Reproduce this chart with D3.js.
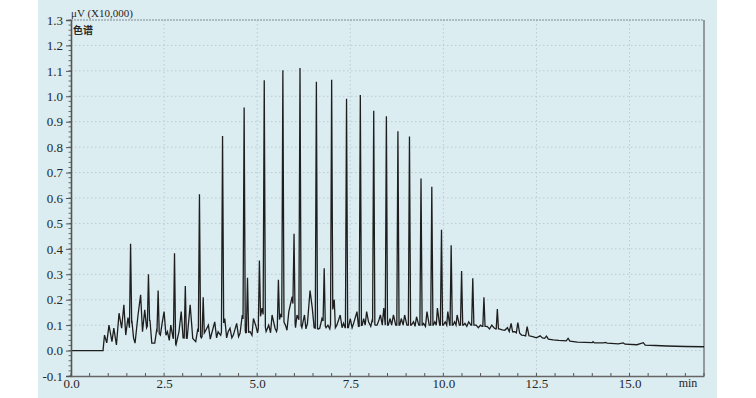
<!DOCTYPE html>
<html>
<head>
<meta charset="utf-8">
<script src="https://cdn.jsdelivr.net/npm/d3@7"></script>
<style>
  body { margin: 0; background: #fff; }
  svg { display: block; }
  .tick text { font-family: 'Liberation Serif', 'DejaVu Serif', serif; font-size: 13px; fill: #262626; }
</style>
</head>
<body>
<div id="chart"></div>
<script>
// retention time (min) and height (uV x10,000) of the tall peaks
const peakTimes = [1.60, 2.08, 2.34, 2.78, 3.07, 3.45, 3.55, 4.07, 4.65, 4.74, 5.06, 5.19, 5.57, 5.69, 5.99, 6.15,
  6.59, 6.80, 7.00, 7.40, 7.77, 8.13, 8.47, 8.78, 9.09, 9.40, 9.69, 9.95, 10.21, 10.49, 10.79, 11.09, 11.45]
const peakHeights = [0.42, 0.30, 0.236, 0.383, 0.254, 0.615, 0.21, 0.844, 0.956, 0.286, 0.354, 1.063, 0.278, 1.102, 0.459, 1.111,
  1.057, 0.324, 1.065, 0.99, 1.005, 0.943, 0.921, 0.862, 0.842, 0.677, 0.644, 0.475, 0.414, 0.313, 0.284, 0.21, 0.163]

// the rest of the trace (baseline hump + small peaks)
const traceTime = [0.0, 0.86, 0.90, 0.96, 1.02, 1.10, 1.15, 1.22, 1.29, 1.36, 1.42, 1.47, 1.53, 1.57, 1.64, 1.68, 1.72, 1.80,
  1.87, 1.92, 1.98, 2.03, 2.12, 2.17, 2.25, 2.30, 2.40, 2.45, 2.50, 2.55, 2.59, 2.64, 2.68, 2.74, 2.82, 2.90, 2.96, 3.01,
  3.12, 3.20, 3.27, 3.35, 3.40, 3.50, 3.60, 3.69, 3.74, 3.78, 3.86, 3.91, 3.95, 4.02, 4.13, 4.18, 4.22, 4.27, 4.32, 4.36,
  4.45, 4.50, 4.54, 4.60, 4.69, 4.81, 4.86, 4.90, 4.97, 5.01, 5.13, 5.24, 5.31, 5.36, 5.40, 5.48, 5.52, 5.63, 5.76, 5.80,
  5.85, 5.94, 6.03, 6.07, 6.20, 6.27, 6.31, 6.35, 6.42, 6.48, 6.53, 6.64, 6.68, 6.74, 6.85, 6.90, 6.95, 7.07, 7.10, 7.14,
  7.23, 7.28, 7.32, 7.36, 7.45, 7.50, 7.55, 7.59, 7.68, 7.72, 7.82, 7.86, 7.90, 7.94, 7.99, 8.05, 8.09, 8.17, 8.22, 8.27,
  8.31, 8.36, 8.40, 8.44, 8.52, 8.57, 8.61, 8.66, 8.72, 8.83, 8.87, 8.92, 8.96, 9.02, 9.14, 9.20, 9.24, 9.28, 9.34, 9.44,
  9.47, 9.52, 9.56, 9.62, 9.73, 9.77, 9.81, 9.84, 9.90, 10.00, 10.05, 10.09, 10.12, 10.17, 10.26, 10.30, 10.34, 10.37,
  10.43, 10.54, 10.58, 10.63, 10.68, 10.74, 10.84, 10.88, 10.94, 11.00, 11.04, 11.14, 11.18, 11.24, 11.30, 11.36, 11.40,
  11.50, 11.58, 11.65, 11.72, 11.77, 11.82, 11.86, 11.92, 11.96, 12.00, 12.05, 12.10, 12.16, 12.21, 12.25, 12.30, 12.40,
  12.50, 12.60, 12.66, 12.72, 12.77, 12.82, 12.95, 13.10, 13.30, 13.35, 13.40, 13.60, 13.80, 14.00, 14.02, 14.06, 14.30,
  14.35, 14.40, 14.70, 14.83, 14.88, 15.20, 15.37, 15.42, 15.70, 16.00, 16.50, 17.00]
const traceValue = [0.0, 0.0, 0.061, 0.03, 0.10, 0.035, 0.088, 0.022, 0.147, 0.088, 0.18, 0.061, 0.13, 0.09, 0.11, 0.05, 0.029, 0.14,
  0.219, 0.074, 0.16, 0.09, 0.12, 0.029, 0.029, 0.08, 0.061, 0.11, 0.153, 0.06, 0.074, 0.04, 0.10, 0.05, 0.022, 0.074, 0.153, 0.05,
  0.048, 0.18, 0.048, 0.035, 0.08, 0.05, 0.074, 0.10, 0.045, 0.068, 0.113, 0.05, 0.074, 0.06, 0.126, 0.05, 0.074, 0.088, 0.05, 0.061,
  0.107, 0.055, 0.068, 0.14, 0.07, 0.074, 0.06, 0.126, 0.094, 0.07, 0.167, 0.075, 0.10, 0.07, 0.14, 0.088, 0.075, 0.14, 0.10, 0.08,
  0.153, 0.212, 0.09, 0.14, 0.09, 0.14, 0.085, 0.107, 0.236, 0.167, 0.09, 0.085, 0.088, 0.126, 0.09, 0.10, 0.085, 0.20, 0.09, 0.10,
  0.14, 0.09, 0.107, 0.09, 0.09, 0.126, 0.09, 0.107, 0.153, 0.095, 0.10, 0.126, 0.10, 0.153, 0.113, 0.095, 0.12, 0.10, 0.10, 0.12,
  0.14, 0.10, 0.167, 0.10, 0.10, 0.126, 0.10, 0.14, 0.10, 0.10, 0.126, 0.10, 0.14, 0.10, 0.10, 0.113, 0.095, 0.133, 0.10, 0.10,
  0.107, 0.095, 0.153, 0.10, 0.10, 0.113, 0.10, 0.167, 0.10, 0.10, 0.113, 0.10, 0.153, 0.10, 0.10, 0.113, 0.10, 0.14,
  0.10, 0.10, 0.107, 0.095, 0.113, 0.10, 0.10, 0.10, 0.09, 0.10, 0.095, 0.095, 0.094, 0.085, 0.10, 0.09, 0.085,
  0.085, 0.081, 0.08, 0.09, 0.075, 0.107, 0.074, 0.074, 0.07, 0.11, 0.068, 0.061, 0.06, 0.058, 0.094, 0.058, 0.055,
  0.05, 0.058, 0.05, 0.048, 0.057, 0.045, 0.042, 0.04, 0.038, 0.048, 0.037, 0.033, 0.032, 0.031, 0.035, 0.03, 0.03,
  0.032, 0.029, 0.026, 0.03, 0.025, 0.023, 0.031, 0.021, 0.02, 0.018, 0.016, 0.015]

const xTicks = [0, 2.5, 5, 7.5, 10, 12.5, 15]
const yTicks = [-0.1, 0, 0.1, 0.2, 0.3, 0.4, 0.5, 0.6, 0.7, 0.8, 0.9, 1.0, 1.1, 1.2, 1.3]

const svgW = 756
const svgH = 398
const margin = { top: 20, right: 52, bottom: 22, left: 71 }
const width = svgW - margin.left - margin.right
const height = svgH - margin.top - margin.bottom

const root = d3.select('#chart')
  .append('svg')
  .attr('width', svgW)
  .attr('height', svgH)

// light blue panel behind the chart
root.append('rect')
  .attr('x', 38)
  .attr('y', 0)
  .attr('width', 679)
  .attr('height', svgH)
  .attr('fill', '#dcedf2')

const svg = root.append('g')
  .attr('transform', 'translate(' + margin.left + ',' + margin.top + ')')

const x = d3.scaleLinear().domain([0, 17]).range([0, width])
const y = d3.scaleLinear().domain([-0.1, 1.3]).range([height, 0])

// dotted grid
svg.append('g')
  .selectAll('line')
  .data(xTicks.slice(1))
  .enter()
  .append('line')
  .attr('x1', d => x(d))
  .attr('x2', d => x(d))
  .attr('y1', 0)
  .attr('y2', height)
  .attr('stroke', '#b9ccd3')
  .attr('stroke-dasharray', '1.5,2.5')

svg.append('g')
  .selectAll('line')
  .data(yTicks.slice(1, -1))
  .enter()
  .append('line')
  .attr('x1', 0)
  .attr('x2', width)
  .attr('y1', d => y(d))
  .attr('y2', d => y(d))
  .attr('stroke', '#b9ccd3')
  .attr('stroke-dasharray', '1.5,2.5')

// frame: dotted top, solid right
svg.append('line')
  .attr('x1', 0).attr('x2', width)
  .attr('y1', 0).attr('y2', 0)
  .attr('stroke', '#7d8a8e')
  .attr('stroke-dasharray', '2,1')
svg.append('line')
  .attr('x1', width).attr('x2', width)
  .attr('y1', 0).attr('y2', height)
  .attr('stroke', '#7f8587')
  .attr('stroke-width', 1.6)

// build the trace: background points plus a thin spike for every tall peak
const bisect = d3.bisector(d => d).left
function traceAt(t) {
  const i = Math.max(1, Math.min(traceTime.length - 1, bisect(traceTime, t)))
  const t0 = traceTime[i - 1]
  const t1 = traceTime[i]
  const k = (t - t0) / (t1 - t0)
  return traceValue[i - 1] + k * (traceValue[i] - traceValue[i - 1])
}

const points = traceTime.map((t, i) => [t, traceValue[i]])
const halfWidth = 0.03
peakTimes.forEach((t, i) => {
  points.push([t - halfWidth, traceAt(t - halfWidth)])
  points.push([t, peakHeights[i]])
  points.push([t + halfWidth, traceAt(t + halfWidth)])
})
points.sort((a, b) => a[0] - b[0])

const line = d3.line()
  .x(d => x(d[0]))
  .y(d => y(d[1]))

svg.append('path')
  .datum(points)
  .attr('fill', 'none')
  .attr('stroke', '#1e1e1e')
  .attr('stroke-width', 1.3)
  .attr('stroke-linejoin', 'miter')
  .attr('d', line)

// y axis
const yMinor = d3.range(-0.1, 1.3001, 0.02)
svg.append('g')
  .selectAll('line')
  .data(yMinor)
  .enter()
  .append('line')
  .attr('x1', -2.5)
  .attr('x2', 0)
  .attr('y1', d => y(d))
  .attr('y2', d => y(d))
  .attr('stroke', '#6b6b6b')

const yAxis = d3.axisLeft(y)
  .tickValues(yTicks)
  .tickSize(5)
  .tickPadding(3)
  .tickFormat(d => d3.format('.1f')(d).replace('\u2212', '-'))

svg.append('g')
  .attr('class', 'axis y-axis')
  .call(yAxis)
  .call(g => g.select('.domain').attr('stroke', '#555').attr('stroke-width', 1.6))
  .call(g => g.selectAll('.tick line').attr('stroke', '#555'))

// x axis
const xMinor = d3.range(0, 17.001, 0.5)
svg.append('g')
  .selectAll('line')
  .data(xMinor)
  .enter()
  .append('line')
  .attr('x1', d => x(d))
  .attr('x2', d => x(d))
  .attr('y1', height - 3)
  .attr('y2', height)
  .attr('stroke', '#555')

const xAxis = d3.axisBottom(x)
  .tickValues(xTicks)
  .tickSize(0)
  .tickFormat(d3.format('.1f'))

svg.append('g')
  .attr('class', 'axis x-axis')
  .attr('transform', 'translate(0,' + height + ')')
  .call(xAxis)
  .call(g => g.select('.domain').attr('stroke', '#666').attr('stroke-width', 1.3))
  .call(g => g.selectAll('.tick text').attr('y', 7).attr('dy', '0.35em'))

svg.append('text')
  .attr('x', 617)
  .attr('y', height + 7)
  .attr('dy', '0.35em')
  .attr('text-anchor', 'middle')
  .attr('font-family', "'Liberation Serif', serif")
  .attr('font-size', 12)
  .attr('fill', '#262626')
  .text('min')

// unit and trace name
svg.append('text')
  .attr('x', 0)
  .attr('y', -7)
  .attr('dy', '0.35em')
  .attr('font-family', "'Liberation Serif', serif")
  .attr('font-size', 11)
  .attr('fill', '#262626')
  .text('μV (X10,000)')

svg.append('text')
  .attr('x', 2)
  .attr('y', 10)
  .attr('dy', '0.35em')
  .attr('font-family', "'Noto Sans CJK SC', sans-serif")
  .attr('font-size', 10)
  .attr('font-weight', 'bold')
  .attr('fill', '#262626')
  .text('色谱')
</script>
</body>
</html>
